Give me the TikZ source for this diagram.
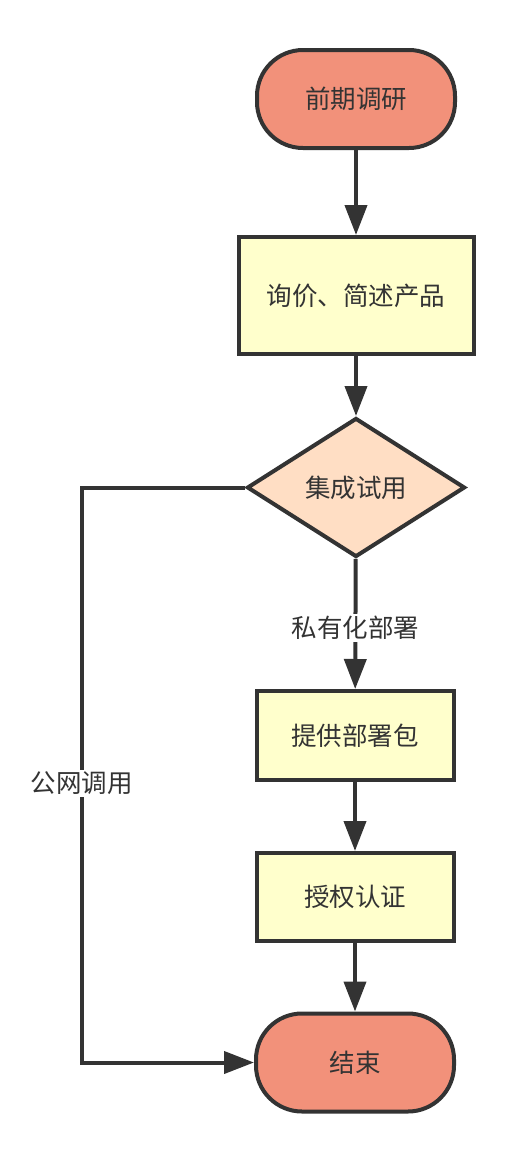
\documentclass[tikz,border=0pt]{standalone}
\usepackage{fontspec}
\newfontfamily\cjk{Noto Sans CJK SC}
\usetikzlibrary{arrows.meta,shapes.geometric}
\definecolor{termfill}{RGB}{242,145,122}
\definecolor{boxfill}{RGB}{255,255,204}
\definecolor{decfill}{RGB}{255,222,196}
\definecolor{ink}{RGB}{51,51,51}
\tikzset{
  base/.style={draw=ink, line width=4bp, text=ink, font=\cjk\fontsize{25.5bp}{30bp}\selectfont, inner sep=0pt},
  term/.style={base, rectangle, rounded corners=46bp, fill=termfill, minimum width=198bp, minimum height=98bp},
  proc/.style={base, rectangle, fill=boxfill},
  dec/.style={base, diamond, fill=decfill, aspect=1.55, minimum width=218bp, minimum height=139bp},
  conn/.style={draw=ink, line width=4bp, -{Triangle[length=30bp,width=22bp]}},
  lbl/.style={fill=white, text=ink, font=\cjk\fontsize{25.5bp}{30bp}\selectfont, inner sep=2bp}
}
\begin{document}
\begin{tikzpicture}[x=1bp,y=-1bp]
\useasboundingbox (0,0) rectangle (523,1162);
\node[term] (s) at (356,99) {前期调研};
\node[proc, minimum width=235bp, minimum height=117bp] (p1) at (356,295.5) {询价、简述产品};
\node[dec, shape aspect=1.55] (d) at (356,487.5) {集成试用};
\node[proc, minimum width=197bp, minimum height=89bp] (p2) at (355,735.5) {提供部署包};
\node[proc, minimum width=197bp, minimum height=88bp] (p3) at (355,897) {授权认证};
\node[term] (e) at (355,1062.5) {结束};
\coordinate (c1) at (82,487.5);
\coordinate (c2) at (82,1062.5);
\draw[conn] (s) -- (p1);
\draw[conn] (p1) -- (d);
\draw[conn] (d) -- node[lbl, pos=0.53] {私有化部署} (p2);
\draw[conn] (p2) -- (p3);
\draw[conn] (p3) -- (e);
\draw[conn] (d.west) -- (c1) -- node[lbl, pos=0.515] {公网调用} (c2) -- (e.west);
\end{tikzpicture}
\end{document}
